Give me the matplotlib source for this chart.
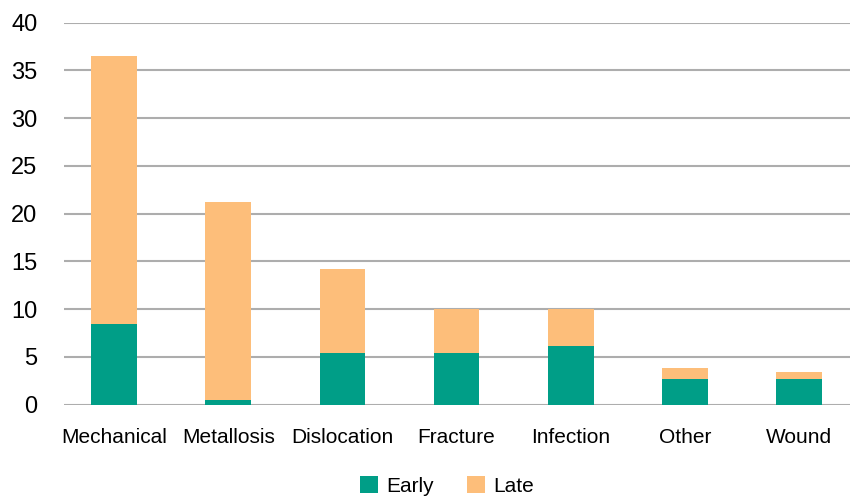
import matplotlib.pyplot as plt
import numpy as np

plt.rcParams['font.family'] = ['Liberation Sans', 'DejaVu Sans']

categories = ['Mechanical', 'Metallosis', 'Dislocation', 'Fracture', 'Infection', 'Other', 'Wound']
early = [8.5, 0.5, 5.4, 5.4, 6.15, 2.7, 2.7]
total = [36.5, 21.2, 14.2, 10.0, 10.0, 3.85, 3.4]
late = [t - e for t, e in zip(total, early)]

c_early = '#009e87'
c_late = '#fdbe7a'

fig = plt.figure(figsize=(8.5, 4.96), dpi=100)
ax = fig.add_axes([64 / 850, 1 - 404.7 / 496, (850 - 64) / 850, (404.7 - 22.7) / 496])

x = np.arange(len(categories))
ax.bar(x, early, width=0.40, color=c_early, label='Early', zorder=3)
ax.bar(x, late, width=0.40, bottom=early, color=c_late, label='Late', zorder=3)

ax.set_ylim(0, 40)
ax.set_xlim(-0.438, 6.445)
ax.set_yticks(range(0, 41, 5))
ax.set_xticks(x)
ax.set_xticklabels(categories)
ax.grid(axis='y', color='#adadad', linewidth=1.5, zorder=0)
for s in ax.spines.values():
    s.set_visible(False)
ax.tick_params(axis='y', length=0, pad=19, labelsize=17)
ax.tick_params(axis='x', length=0, pad=17, labelsize=15)

fig.legend(loc='center', bbox_to_anchor=(0.526, 0.02), ncol=2, frameon=False,
           fontsize=15, handlelength=0.87, handleheight=0.85, handletextpad=0.4,
           columnspacing=1.6, borderpad=0)

fig.savefig('out.png', dpi=100)
